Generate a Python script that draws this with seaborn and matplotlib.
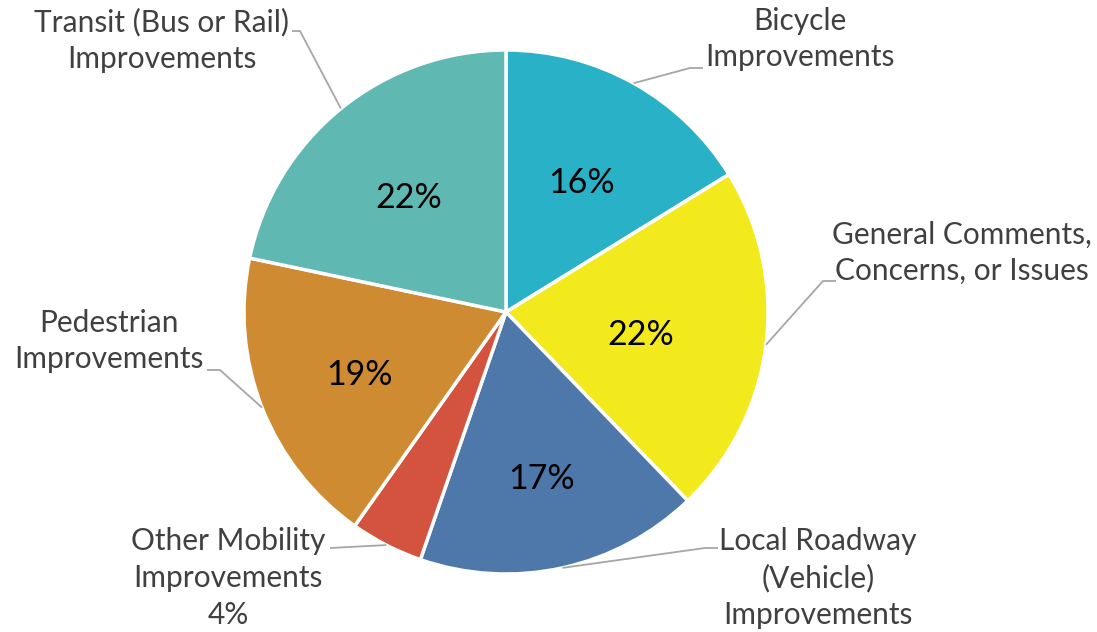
import numpy as np
import matplotlib
matplotlib.use("Agg")
import matplotlib.pyplot as plt
import seaborn as sns

categories = ["Bicycle\nImprovements",
              "General Comments,\nConcerns, or Issues",
              "Local Roadway\n(Vehicle)\nImprovements",
              "Other Mobility\nImprovements",
              "Pedestrian\nImprovements",
              "Transit (Bus or Rail)\nImprovements"]
values = [16.2, 21.6, 17.5, 4.5, 18.5, 21.7]
pct_labels = ["16%", "22%", "17%", "4%", "19%", "22%"]
colors = ["#29B2C7", "#F2EA1C", "#4E78A9", "#D3533E", "#CF8B32", "#5FB8B2"]

sns.set_theme(style="white")
plt.rcParams["font.family"] = ["Lato", "DejaVu Sans"]

W, H = 1097, 632
fig = plt.figure(figsize=(W / 100, H / 100), dpi=100)
ax = fig.add_axes([0, 0, 1, 1])

cx, cy, R = 506, H - 312, 262
wedges, _ = ax.pie(values, colors=colors, startangle=90, counterclock=False,
                   center=(cx, cy), radius=R, frame=True,
                   wedgeprops=dict(edgecolor="white", linewidth=2.5))
ax.set_xlim(0, W)
ax.set_ylim(0, H)
ax.axis("off")

text_color = "#404040"
line_color = "#A6A6A6"

# label layout (pixel coords from top-left): block center, elbow, line end
layout = [
    dict(pos=(800, 39), elbow=(690, 68), end=(703, 68)),
    dict(pos=(962, 253), elbow=(823, 281), end=(836, 281)),
    dict(pos=(818, 578), elbow=(705, 548), end=(718, 548)),
    dict(pos=(228, 578), elbow=(330, 548), end=(330, 548)),
    dict(pos=(109, 341), elbow=(220, 370), end=(207, 370)),
    dict(pos=(162, 40), elbow=(300, 31), end=(292, 31)),
]
pct_dist = [0.59, 0.52, 0.63, None, 0.60, 0.59]

for i, w in enumerate(wedges):
    mid = np.deg2rad((w.theta1 + w.theta2) / 2)
    ex, ey = cx + R * np.cos(mid), cy + R * np.sin(mid)
    lay = layout[i]
    px, py = lay["elbow"]
    qx, qy = lay["end"]
    ax.plot([ex, px, qx], [ey, H - py, H - qy], color=line_color, lw=1.3,
            solid_capstyle="butt")
    txt = categories[i]
    if pct_dist[i] is None:
        txt = txt + "\n" + pct_labels[i]
    ax.text(lay["pos"][0], H - lay["pos"][1], txt, ha="center", va="center",
            fontsize=21.5, color=text_color, linespacing=1.37)
    if pct_dist[i] is not None:
        d = pct_dist[i] * R
        ax.text(cx + d * np.cos(mid), cy + d * np.sin(mid) - 6, pct_labels[i],
                ha="center", va="center", fontsize=24.5, color="black")

fig.savefig("out.png", dpi=100, facecolor="white")
